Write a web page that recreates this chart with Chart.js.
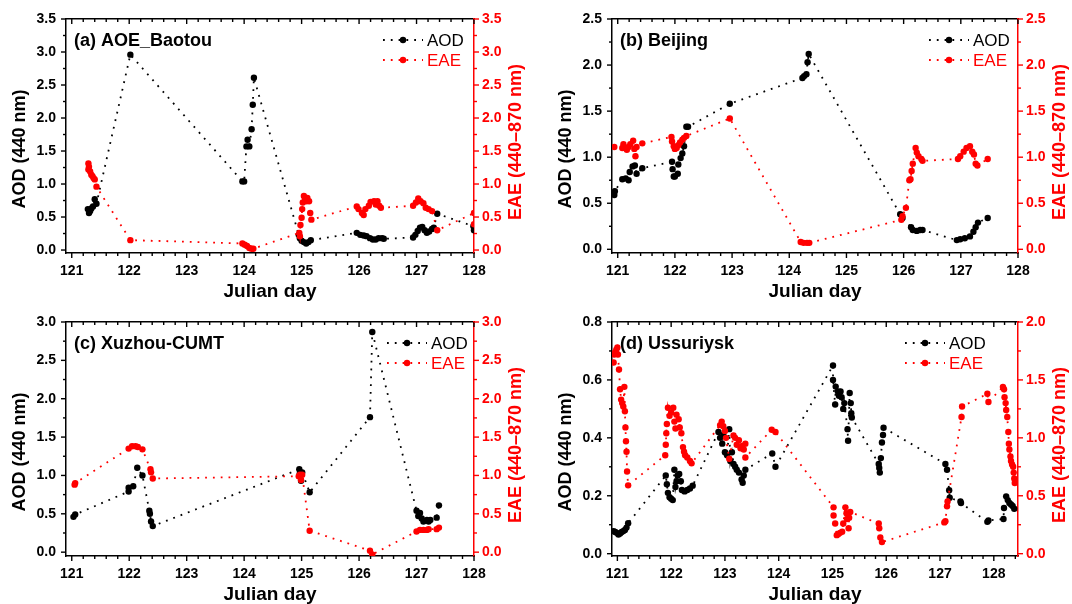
<!DOCTYPE html>
<html>
<head>
<meta charset="utf-8">
<script src="https://cdn.jsdelivr.net/npm/chart.js@4.4.1/dist/chart.umd.min.js"></script>
<style>
  body { margin: 0; background: #fff; width: 1072px; height: 604px; overflow: hidden; position: relative; }
  canvas { position: absolute; }
</style>
</head>
<body>
<canvas id="pa" width="536" height="302" style="left:0;top:0"></canvas>
<canvas id="pb" width="536" height="302" style="left:536px;top:0"></canvas>
<canvas id="pc" width="536" height="302" style="left:0;top:302px"></canvas>
<canvas id="pd" width="536" height="302" style="left:536px;top:302px"></canvas>
<script>
// tick labels
const dayTicks = [121, 122, 123, 124, 125, 126, 127, 128];
const ticks35 = [0, 0.5, 1.0, 1.5, 2.0, 2.5, 3.0, 3.5];
const ticks25 = [0, 0.5, 1.0, 1.5, 2.0, 2.5];
const ticks30 = [0, 0.5, 1.0, 1.5, 2.0, 2.5, 3.0];
const ticks08 = [0, 0.2, 0.4, 0.6, 0.8];
const ticks20 = [0, 0.5, 1.0, 1.5, 2.0];

// (a) AOE_Baotou
const aAodDay = [121.28, 121.30, 121.32, 121.34, 121.37, 121.40, 121.43, 122.02, 123.97, 124.00, 124.04, 124.06, 124.09, 124.13, 124.15, 124.17,
  124.95, 124.97, 125.00, 125.04, 125.08, 125.12, 125.16, 125.96, 126.02, 126.08, 126.13, 126.19, 126.24, 126.29, 126.34, 126.40, 126.43,
  126.94, 126.98, 127.02, 127.06, 127.10, 127.14, 127.18, 127.22, 127.27, 127.30, 127.36, 127.99, 128.00, 128.01];
const aAod = [0.62, 0.56, 0.59, 0.63, 0.66, 0.77, 0.70, 2.96, 1.04, 1.04, 1.57, 1.67, 1.57, 1.83, 2.20, 2.61,
  0.23, 0.18, 0.14, 0.12, 0.10, 0.12, 0.15, 0.26, 0.23, 0.22, 0.21, 0.18, 0.16, 0.16, 0.18, 0.18, 0.17,
  0.19, 0.23, 0.29, 0.34, 0.35, 0.30, 0.26, 0.28, 0.32, 0.34, 0.55, 0.36, 0.30, 0.27];
const aEaeDay = [121.29, 121.30, 121.29, 121.32, 121.34, 121.36, 121.38, 121.40, 121.43, 122.02, 123.97, 124.01, 124.05, 124.09, 124.13, 124.16,
  124.96, 124.97, 124.98, 125.00, 125.01, 125.02, 125.04, 125.06, 125.08, 125.10, 125.13, 125.15, 125.17,
  125.96, 125.99, 126.05, 126.08, 126.11, 126.17, 126.20, 126.26, 126.29, 126.32, 126.35, 126.38,
  126.94, 126.99, 127.03, 127.07, 127.12, 127.16, 127.21, 127.27, 127.36, 128.00, 128.00];
const aEae = [1.31, 1.26, 1.22, 1.19, 1.14, 1.12, 1.09, 1.07, 0.96, 0.15, 0.10, 0.08, 0.06, 0.03, 0.02, 0.02,
  0.26, 0.21, 0.38, 0.49, 0.62, 0.72, 0.82, 0.78, 0.74, 0.79, 0.74, 0.56, 0.46,
  0.66, 0.62, 0.56, 0.53, 0.62, 0.67, 0.73, 0.74, 0.69, 0.74, 0.67, 0.64,
  0.67, 0.72, 0.78, 0.74, 0.71, 0.64, 0.62, 0.59, 0.30, 0.56, 0.39];

// (b) Beijing
const bAodDay = [120.94, 120.95, 121.08, 121.14, 121.19, 121.21, 121.26, 121.30, 121.33, 121.43, 121.95, 121.96, 121.98, 122.00, 122.05, 122.06,
  122.10, 122.13, 122.16, 122.20, 122.23, 122.96, 124.23, 124.26, 124.30, 124.32, 124.34, 125.94, 125.98, 126.13, 126.16, 126.23, 126.29, 126.33,
  126.93, 126.99, 127.07, 127.16, 127.22, 127.26, 127.30, 127.47];
const bAod = [0.59, 0.63, 0.76, 0.77, 0.75, 0.84, 0.90, 0.91, 0.82, 0.88, 0.95, 0.87, 0.79, 0.79, 0.82, 0.92,
  0.99, 1.04, 1.12, 1.33, 1.33, 1.58, 1.86, 1.88, 1.90, 2.03, 2.12, 0.38, 0.34, 0.24, 0.21, 0.20, 0.21, 0.21,
  0.10, 0.11, 0.12, 0.14, 0.19, 0.24, 0.29, 0.34];
const bEaeDay = [120.94, 121.08, 121.10, 121.13, 121.16, 121.19, 121.22, 121.27, 121.29, 121.31, 121.33, 121.43, 121.94, 121.95, 121.98, 122.00,
  122.03, 122.06, 122.09, 122.13, 122.16, 122.20, 122.96, 124.20, 124.25, 124.31, 124.35, 125.96, 125.98, 126.04, 126.10, 126.12, 126.14, 126.16,
  126.21, 126.23, 126.26, 126.31, 126.33, 126.95, 126.99, 127.05, 127.10, 127.16, 127.20, 127.23, 127.26, 127.29, 127.47];
const bEae = [1.11, 1.10, 1.14, 1.10, 1.08, 1.11, 1.14, 1.18, 1.09, 1.01, 1.11, 1.15, 1.22, 1.17, 1.12, 1.09,
  1.10, 1.13, 1.16, 1.19, 1.21, 1.23, 1.42, 0.08, 0.07, 0.07, 0.07, 0.32, 0.36, 0.45, 0.75, 0.76, 0.85, 0.93,
  1.10, 1.05, 1.01, 0.98, 0.96, 0.98, 1.01, 1.06, 1.10, 1.12, 1.06, 1.03, 0.93, 0.91, 0.98];

// (c) Xuzhou-CUMT
const cAodDay = [121.03, 121.06, 121.99, 121.99, 122.07, 122.14, 122.23, 122.35, 122.36, 122.38, 122.41, 124.96, 124.97, 124.99, 125.01, 125.14,
  126.19, 126.23, 127.00, 127.03, 127.06, 127.09, 127.12, 127.18, 127.21, 127.24, 127.35, 127.39];
const cAod = [0.46, 0.49, 0.79, 0.84, 0.86, 1.10, 1.00, 0.54, 0.50, 0.40, 0.34, 1.08, 1.03, 0.93, 1.04, 0.78,
  1.76, 2.87, 0.54, 0.47, 0.51, 0.44, 0.40, 0.42, 0.40, 0.42, 0.45, 0.61];
const cEaeDay = [121.05, 121.06, 121.99, 122.05, 122.11, 122.15, 122.23, 122.37, 122.38, 122.41, 124.95, 124.97, 124.99, 125.01, 125.14,
  126.19, 126.23, 127.00, 127.06, 127.12, 127.18, 127.21, 127.35, 127.39];
const cEae = [0.88, 0.90, 1.35, 1.38, 1.38, 1.37, 1.34, 1.08, 1.04, 0.96, 0.99, 1.01, 0.94, 1.01, 0.28,
  0.02, -0.03, 0.27, 0.29, 0.29, 0.29, 0.30, 0.30, 0.32];

// (d) Ussuriysk
const dAodDay = [120.93, 120.96, 120.99, 121.02, 121.05, 121.08, 121.11, 121.14, 121.17, 121.20,
  121.90, 121.92, 121.94, 121.97, 122.00, 122.03, 122.06, 122.08, 122.10, 122.12, 122.15, 122.18, 122.20, 122.25, 122.30, 122.35, 122.40,
  122.88, 122.91, 122.95, 122.97, 123.00, 123.04, 123.08, 123.10, 123.13, 123.16, 123.19, 123.22, 123.26, 123.31, 123.33, 123.35, 123.38,
  123.88, 123.94, 125.01, 125.01, 125.05, 125.06, 125.10, 125.12, 125.15, 125.17, 125.20, 125.22, 125.28, 125.29, 125.32, 125.34, 125.35, 125.36,
  125.86, 125.87, 125.88, 125.90, 125.92, 125.94, 125.95, 127.10, 127.13, 127.17, 127.18, 127.38, 127.39, 127.88, 127.90,
  128.18, 128.19, 128.23, 128.26, 128.29, 128.32, 128.35, 128.38];
const dAod = [0.078, 0.075, 0.072, 0.066, 0.070, 0.075, 0.078, 0.082, 0.090, 0.105,
  0.27, 0.24, 0.21, 0.195, 0.19, 0.185, 0.29, 0.23, 0.25, 0.27, 0.275, 0.25, 0.22, 0.215, 0.22, 0.225, 0.235,
  0.42, 0.40, 0.38, 0.41, 0.35, 0.34, 0.43, 0.32, 0.35, 0.31, 0.30, 0.29, 0.28, 0.256, 0.245, 0.27, 0.29,
  0.346, 0.30, 0.65, 0.60, 0.515, 0.577, 0.56, 0.545, 0.56, 0.54, 0.50, 0.52, 0.43, 0.39, 0.555, 0.52, 0.485, 0.47,
  0.31, 0.296, 0.28, 0.33, 0.384, 0.41, 0.435, 0.31, 0.29, 0.219, 0.193, 0.18, 0.175, 0.11, 0.115,
  0.12, 0.158, 0.198, 0.185, 0.175, 0.17, 0.165, 0.155];
const dEaeDay = [120.93, 120.94, 120.96, 120.98, 121.00, 121.01, 121.03, 121.05, 121.07, 121.09, 121.11, 121.13, 121.14, 121.15, 121.16, 121.17, 121.18, 121.20,
  121.89, 121.90, 121.91, 121.92, 121.94, 121.97, 122.00, 122.04, 122.06, 122.08, 122.10, 122.14, 122.16, 122.19, 122.22, 122.24, 122.26, 122.30, 122.35, 122.38,
  122.91, 122.94, 122.97, 123.00, 123.02, 123.08, 123.16, 123.19, 123.22, 123.26, 123.29, 123.32, 123.35, 123.38, 123.38,
  123.87, 123.94, 125.02, 125.02, 125.05, 125.08, 125.11, 125.14, 125.18, 125.20, 125.24, 125.26, 125.27, 125.30, 125.31, 125.33,
  125.86, 125.87, 125.89, 125.92, 127.08, 127.10, 127.13, 127.14, 127.40, 127.41, 127.88, 127.90,
  128.17, 128.19, 128.20, 128.22, 128.23, 128.25, 128.27, 128.28, 128.29, 128.31, 128.32, 128.34, 128.36, 128.37, 128.38, 128.39];
const dEae = [1.65, 1.72, 1.74, 1.76, 1.78, 1.72, 1.59, 1.42, 1.33, 1.30, 1.27, 1.44, 1.23, 1.09, 0.97, 0.88, 0.71, 0.59,
  0.85, 0.94, 1.04, 1.12, 1.26, 1.19, 1.22, 1.26, 1.14, 1.08, 1.20, 1.16, 1.09, 1.04, 0.92, 0.88, 0.85, 0.83, 0.80, 0.78,
  1.11, 1.14, 1.10, 1.06, 1.00, 0.82, 1.02, 1.00, 0.94, 0.98, 0.91, 0.93, 0.90, 0.95, 0.83,
  1.07, 1.05, 0.40, 0.33, 0.26, 0.16, 0.17, 0.18, 0.19, 0.26, 0.40, 0.35, 0.30, 0.22, 0.31, 0.36,
  0.26, 0.22, 0.14, 0.10, 0.27, 0.28, 0.41, 0.45, 1.18, 1.27, 1.38, 1.31,
  1.44, 1.42, 1.35, 1.30, 1.24, 1.18, 1.05, 0.95, 0.90, 0.84, 0.80, 0.77, 0.75, 0.70, 0.65, 0.61];

const FONT = "'Liberation Sans', Arial, sans-serif";
const RED = '#ff0000';
Chart.defaults.font.family = FONT;

function pairs(xs, ys) {
  return xs.map((x, i) => ({ x: x, y: ys[i] }));
}

function eachStep(min, max, step, major, fn) {
  const i0 = Math.ceil(min / step - 1e-6), i1 = Math.floor(max / step + 1e-6);
  for (let i = i0; i <= i1; i++) {
    const v = +(i * step).toFixed(6);
    const isMajor = Math.abs(v / major - Math.round(v / major)) < 1e-6;
    fn(v, isMajor);
  }
}

function seg(ctx, x1, y1, x2, y2) {
  ctx.beginPath(); ctx.moveTo(x1, y1); ctx.lineTo(x2, y2); ctx.stroke();
}

// minor ticks, inward top ticks, labels, legend, axis titles
const framePlugin = {
  id: 'frame',
  afterDraw(chart, args, o) {
    const { ctx, chartArea: a, scales } = chart;
    const sx = scales.x, sy = scales.y, sr = scales.y2;
    ctx.save();
    ctx.lineWidth = 1.4;
    ctx.strokeStyle = '#000';
    eachStep(sx.min, sx.max, 0.2, 1, (v, M) => {
      const p = sx.getPixelForValue(v);
      const len = M ? 5 : 3;
      seg(ctx, p, a.bottom, p, a.bottom + len);
      seg(ctx, p, a.top, p, a.top + len);
    });
    eachStep(sy.min, sy.max, o.aodMinor, o.aodMinor * 2, (v, M) => {
      const p = sy.getPixelForValue(v);
      seg(ctx, a.left, p, a.left - (M ? 5 : 3), p);
    });
    ctx.strokeStyle = RED;
    eachStep(sr.min, sr.max, o.eaeMinor, o.eaeMinor * 2, (v, M) => {
      const p = sr.getPixelForValue(v);
      seg(ctx, a.right, p, a.right + (M ? 5 : 3), p);
    });

    // panel name
    ctx.fillStyle = '#000';
    ctx.font = 'bold 18px ' + FONT;
    ctx.textBaseline = 'middle';
    ctx.textAlign = 'left';
    ctx.fillText(o.name, a.left + 8, a.top + 22);

    // legend
    const tx = a.right - o.legendDx;
    [['AOD', '#000', 21], ['EAE', RED, 41]].forEach(([t, c, dy]) => {
      const y = a.top + dy;
      ctx.strokeStyle = c;
      ctx.fillStyle = c;
      ctx.lineWidth = 1.8;
      ctx.setLineDash([1.8, 6]);
      seg(ctx, tx - 44, y, tx - 4, y);
      ctx.setLineDash([]);
      ctx.beginPath(); ctx.arc(tx - 24, y, 3.2, 0, Math.PI * 2); ctx.fill();
      ctx.font = '17px ' + FONT;
      ctx.fillText(t, tx, y + 1);
    });

    // axis titles
    ctx.font = 'bold 19px ' + FONT;
    ctx.textAlign = 'center';
    ctx.fillStyle = '#000';
    ctx.fillText('Julian day', (a.left + a.right) / 2, a.bottom + 39);
    ctx.font = 'bold 18px ' + FONT;
    const cy = (a.top + a.bottom) / 2;
    ctx.save();
    ctx.translate(a.left - 46, cy + 13);
    ctx.rotate(-Math.PI / 2);
    ctx.fillText('AOD (440 nm)', 0, 0);
    ctx.restore();
    ctx.save();
    ctx.fillStyle = RED;
    ctx.translate(a.right + 42, cy + 6);
    ctx.rotate(-Math.PI / 2);
    ctx.fillText('EAE (440\u2013870 nm)', 0, 0);
    ctx.restore();
    ctx.restore();
  }
};

function makePanel(id, p) {
  const tickFont = { family: FONT, size: 14, weight: 'bold' };
  const lineSet = (label, data, color, axis) => ({
    label: label,
    data: data,
    yAxisID: axis,
    borderColor: color,
    backgroundColor: color,
    borderWidth: 1.8,
    borderDash: [1.8, 6],
    pointRadius: 3.2,
    pointHoverRadius: 3.2,
    pointBorderWidth: 0,
    pointBackgroundColor: color,
    fill: false,
    tension: 0
  });
  return new Chart(document.getElementById(id), {
    type: 'line',
    data: {
      datasets: [
        lineSet('EAE', pairs(p.eaeDay, p.eae), RED, 'y2'),
        lineSet('AOD', pairs(p.aodDay, p.aod), '#000', 'y')
      ]
    },
    options: {
      responsive: false,
      animation: false,
      layout: { padding: 0 },
      plugins: {
        legend: { display: false },
        tooltip: { enabled: false },
        frame: { name: p.name, legendDx: p.legendDx, aodMinor: p.aodMinor, eaeMinor: p.eaeMinor }
      },
      scales: {
        x: {
          type: 'linear', position: 'bottom', min: 120.9, max: p.xMax,
          afterBuildTicks: s => { s.ticks = dayTicks.map(v => ({ value: v })); },
          afterFit: s => { s.height = 302 - p.box[3]; },
          ticks: { font: tickFont, color: '#000', padding: 10, maxRotation: 0, callback: v => v },
          grid: { display: false, drawTicks: false },
          border: { display: true, color: '#000', width: 1.5 }
        },
        xt: {
          type: 'linear', position: 'top', min: 120.9, max: p.xMax,
          afterFit: s => { s.height = p.box[2]; },
          ticks: { display: false },
          grid: { display: false, drawTicks: false },
          border: { display: true, color: '#000', width: 1.5 }
        },
        y: {
          type: 'linear', position: 'left', min: p.aodRange[0], max: p.aodRange[1],
          afterBuildTicks: s => { s.ticks = p.aodTicks.map(v => ({ value: v })); },
          afterFit: s => { s.width = p.box[0]; },
          ticks: { font: tickFont, color: '#000', padding: 10, callback: v => v.toFixed(1) },
          grid: { display: false, drawTicks: false },
          border: { display: true, color: '#000', width: 1.5 }
        },
        y2: {
          type: 'linear', position: 'right', min: p.eaeRange[0], max: p.eaeRange[1],
          afterBuildTicks: s => { s.ticks = p.eaeTicks.map(v => ({ value: v })); },
          afterFit: s => { s.width = 536 - p.box[1]; },
          ticks: { font: tickFont, color: RED, padding: 8, callback: v => v.toFixed(1) },
          grid: { display: false, drawTicks: false },
          border: { display: true, color: RED, width: 1.5 }
        }
      }
    },
    plugins: [framePlugin]
  });
}

makePanel('pa', {
  name: '(a) AOE_Baotou', aodDay: aAodDay, aod: aAod, eaeDay: aEaeDay, eae: aEae,
  xMax: 128, aodRange: [-0.045, 3.5], aodTicks: ticks35, aodMinor: 0.25,
  eaeRange: [-0.045, 3.5], eaeTicks: ticks35, eaeMinor: 0.25,
  box: [66, 474, 19, 253], legendDx: 47
});
makePanel('pb', {
  name: '(b) Beijing', aodDay: bAodDay, aod: bAod, eaeDay: bEaeDay, eae: bEae,
  xMax: 128, aodRange: [-0.04, 2.5], aodTicks: ticks25, aodMinor: 0.25,
  eaeRange: [-0.04, 2.5], eaeTicks: ticks25, eaeMinor: 0.25,
  box: [76, 482, 19, 253], legendDx: 45
});
makePanel('pc', {
  name: '(c) Xuzhou-CUMT', aodDay: cAodDay, aod: cAod, eaeDay: cEaeDay, eae: cEae,
  xMax: 128, aodRange: [-0.05, 3.0], aodTicks: ticks30, aodMinor: 0.25,
  eaeRange: [-0.05, 3.0], eaeTicks: ticks30, eaeMinor: 0.25,
  box: [66, 474, 20, 254], legendDx: 43
});
makePanel('pd', {
  name: '(d) Ussuriysk', aodDay: dAodDay, aod: dAod, eaeDay: dEaeDay, eae: dEae,
  xMax: 128.45, aodRange: [-0.008, 0.8], aodTicks: ticks08, aodMinor: 0.1,
  eaeRange: [-0.02, 2.0], eaeTicks: ticks20, eaeMinor: 0.25,
  box: [76, 482, 20, 254], legendDx: 69
});
</script>
</body>
</html>
